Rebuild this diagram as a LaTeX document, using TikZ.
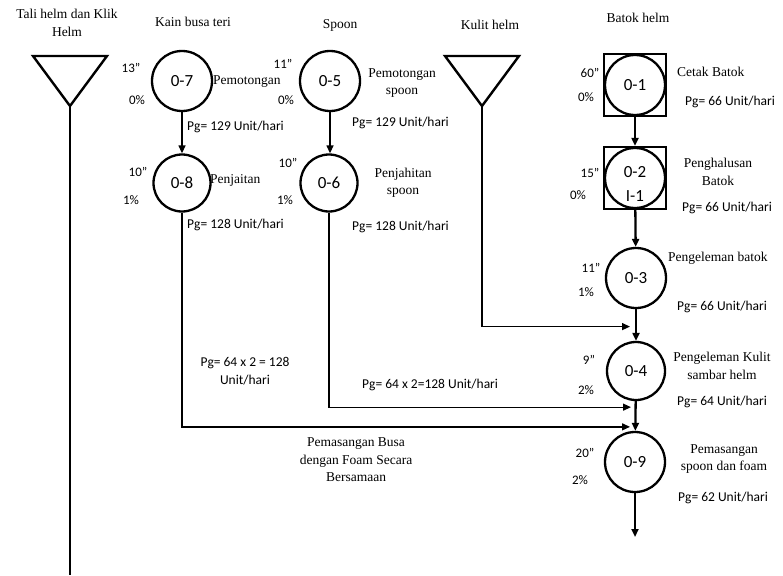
\documentclass[tikz,border=0pt]{standalone}
\usepackage{fontspec}
\setmainfont{Carlito}
\newfontfamily\seriffont{Liberation Serif}
\usetikzlibrary{calc,arrows.meta}
\begin{document}
\begin{tikzpicture}[x=1pt,y=-1pt,
  proc/.style={circle,draw,line width=2.3pt,minimum size=60pt,inner sep=0pt,font=\fontsize{17}{18}\selectfont},
  procsq/.style={rectangle,draw,line width=2.3pt,minimum size=62pt,inner sep=0pt,align=center,font=\fontsize{17}{22}\selectfont},
  idtxt/.style={inner sep=0pt,align=center,font=\fontsize{17}{24}\selectfont},
  lbl/.style={inner sep=0pt,font=\fontsize{13}{15}\selectfont},
  pg/.style={inner sep=0pt,anchor=west,font=\fontsize{13.5}{18}\selectfont,align=center},
  ser/.style={inner sep=0pt,align=center,font=\seriffont\fontsize{13.5}{17.5}\selectfont},
  thin/.style={line width=1.3pt},
  thick/.style={line width=2.3pt},
  tip/.style={-{Triangle[length=8pt,width=7pt]}},
  tri/.style={line width=2.4pt,line join=miter}
]
\useasboundingbox (0,0) rectangle (783,575);
% headings
\node[ser] (h1) at (67,23) {Tali helm dan Klik\\Helm};
\node[ser] (h2) at (193,22) {Kain busa teri};
\node[ser] (h3) at (340,25) {Spoon};
\node[ser] (h4) at (490,25) {Kulit helm};
\node[ser] (h5) at (638,18) {Batok helm};
% triangles
\coordinate (t1a) at (70,106);
\draw[tri] (33,56) -- (107,56) -- (t1a) -- cycle;
\coordinate (t2a) at (482,106);
\draw[tri] (445,56) -- (519,56) -- (t2a) -- cycle;
% operations
\node[proc] (o7) at (182,81) {0-7};
\node[proc,minimum size=57pt] (o8) at (182,183) {0-8};
\node[proc] (o5) at (330,81) {0-5};
\node[proc,minimum size=57pt] (o6) at (329,183) {0-6};
\node[procsq] (o1) at (635,85) {0-1};
\draw[thick] (o1.center) circle (30pt);
\node[procsq] (o2) at (635,178) {};
\draw[thick] (o2.center) circle (30pt);
\node[idtxt] (o2t) at ($(o2.center)+(0,6)$) {0-2\\I-1};
\node[proc] (o3) at (636,278) {0-3};
\node[proc,minimum size=58pt] (o4) at (636,371) {0-4};
\node[proc] (o9) at (635,462) {0-9};
% time and percent labels
\node[lbl] (a7) at (131,68) {13"};
\node[lbl] (b7) at (137,100) {0\%};
\node[lbl] (a8) at (138,172) {10"};
\node[lbl] (b8) at (131,200) {1\%};
\node[lbl] (a5) at (283,64) {11"};
\node[lbl] (b5) at (286,100) {0\%};
\node[lbl] (a6) at (288,163) {10"};
\node[lbl] (b6) at (285,200) {1\%};
\node[lbl] (a1) at (590,73) {60"};
\node[lbl] (b1) at (586,97) {0\%};
\node[lbl] (a2) at (590,173) {15"};
\node[lbl] (b2) at (578,195) {0\%};
\node[lbl] (a3) at (591,268) {11"};
\node[lbl] (b3) at (586,292) {1\%};
\node[lbl] (a4) at (589,360) {9"};
\node[lbl] (b4) at (586,390) {2\%};
\node[lbl] (a9) at (585,453) {20"};
\node[lbl] (b9) at (580,480) {2\%};
% operation names
\node[ser,anchor=west] (n7) at (213,82) {Pemotongan};
\node[ser,anchor=west] (n8) at (210,180) {Penjaitan};
\node[ser] (n5) at (402,83) {Pemotongan\\spoon};
\node[ser] (n6) at (403,183) {Penjahitan\\spoon};
\node[ser,anchor=west] (n1) at (677,72) {Cetak Batok};
\node[ser] (n2) at (718,172) {Penghalusan\\Batok};
\node[ser,anchor=west] (n3) at (668,258) {Pengeleman batok};
\node[ser] (n4) at (722,366) {Pengeleman Kulit\\sambar helm};
\node[ser] (n9) at (724,459) {Pemasangan\\spoon dan foam};
\node[ser] (nb) at (356,460) {Pemasangan Busa\\dengan Foam Secara\\Bersamaan};
% capacities
\node[pg] (p7) at (187,127) {Pg= 129 Unit/hari};
\node[pg] (p8) at (187,225) {Pg= 128 Unit/hari};
\node[pg] (p5) at (352,123) {Pg= 129 Unit/hari};
\node[pg] (p6) at (352,227) {Pg= 128 Unit/hari};
\node[pg] (p1) at (685,102) {Pg= 66 Unit/hari};
\node[pg] (p2) at (682,208) {Pg= 66 Unit/hari};
\node[pg] (p3) at (677,307) {Pg= 66 Unit/hari};
\node[pg] (p4) at (677,402) {Pg= 64 Unit/hari};
\node[pg] (p9) at (678,498) {Pg= 62 Unit/hari};
\node[pg,anchor=center] (pa) at (245,371) {Pg= 64 x 2 = 128\\Unit/hari};
\node[pg] (pb) at (362,385) {Pg= 64 x 2=128 Unit/hari};
% connectors
\draw[thin,tip] (o7.south) -- (o7.south |- o8.north);
\draw[thin,tip] (o5.south) -- (o5.south |- o6.north);
\draw[thick,tip] (o1) -- (o2);
\draw[thick,tip] (o2) -- (o3);
\draw[thick,tip] (o3) -- (o4);
\draw[thick,tip] (o4) -- (o9);
\coordinate (end9) at (635,537);
\draw[thick,tip] (o9) -- (end9);
\coordinate (end1) at (70,575);
\draw[thin] (t1a) -- (end1);
\coordinate (j2) at ($(o3.south)!0.55!(o4.north)+(-6,0)$);
\draw[thin,tip] (t2a) |- (j2);
\coordinate (j6) at ($(o4.south)+(-5,6)$);
\draw[thin,tip] (o6.south) |- (j6);
\coordinate (j8) at ($(o9.north)+(-5,-4)$);
\draw[thin,tip] (o8.south) |- (j8);
\end{tikzpicture}
\end{document}
